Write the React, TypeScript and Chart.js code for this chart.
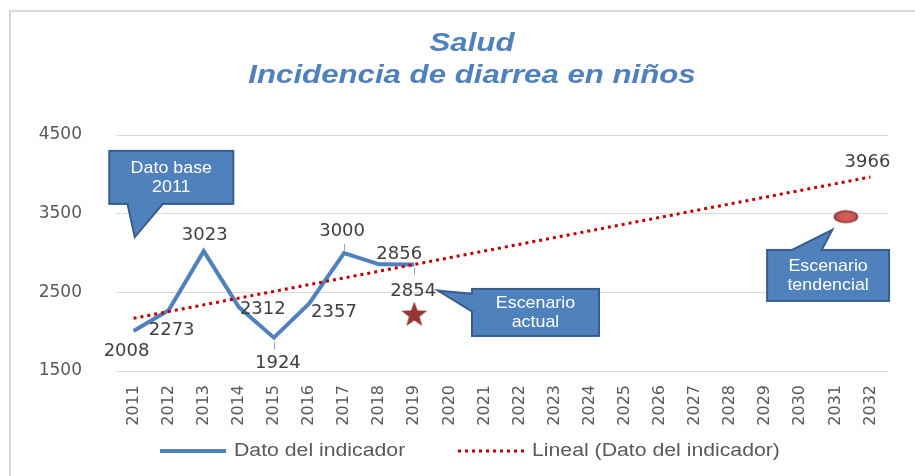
import React, { useEffect, useRef } from 'react';
import { Chart, registerables } from 'chart.js';

Chart.register(...registerables);

// ---------- data ----------
const TITLE_LINES = ['Salud', 'Incidencia de diarrea en niños'];
const YEARS = [2011, 2012, 2013, 2014, 2015, 2016, 2017, 2018, 2019, 2020, 2021, 2022, 2023, 2024, 2025, 2026, 2027, 2028, 2029, 2030, 2031, 2032];
const DATA_YEARS = [2011, 2012, 2013, 2014, 2015, 2016, 2017, 2018, 2019];
const VALUES = [2008, 2273, 3023, 2312, 1924, 2357, 3000, 2856, 2854];
const TREND_YEARS = [2011, 2032];
const TREND_VALUES = [2170, 3966];
const ACTUAL_YEARS = [2019];
const ACTUAL_VALUES = [2225];
const TENDENCIAL_YEARS = [2031.3];
const TENDENCIAL_VALUES = [3462];
const Y_TICKS = [1500, 2500, 3500, 4500];
const SERIES_NAMES = ['Dato del indicador', 'Lineal (Dato del indicador)'];
const CALLOUT_TEXTS = [['Dato base', '2011'], ['Escenario', 'actual'], ['Escenario', 'tendencial']];
const CALLOUT_TIP_X = [2011.05, 2019.79, 2030.85];
const CALLOUT_TIP_Y = [3230, 2505, 3268];

// ---------- layout / style (pixel offsets, not data) ----------
const LABEL_OFFSETS: [number, number][] = [[-7, 20], [3, 20], [1, -16], [24, 2], [4, 26], [25, 9], [-2, -22], [20, -10], [-1, 27]];
const LEADERS: ([number, number] | null)[] = [null, null, null, null, [4, 12], null, [-9, -1], null, [3, 11]];
const TREND_LABEL_OFFSET: [number, number] = [-3, -15];
// box: dx, dy, w, h relative to tip; tail base points relative to tip
const CALLOUT_GEOM = [
  { dx: -25, dy: -83, w: 122, h: 51, b1: [-7, -32], b2: [27, -32] },
  { dx: 31, dy: -2, w: 125, h: 45, b1: [31, 3], b2: [31, 19] },
  { dx: -62, dy: 19, w: 120, h: 49, b1: [-38, 19], b2: [-10, 19] },
];

const BLUE = '#4f81bd';
const DARK_BLUE = '#385d8a';
const RED = '#c00000';
const TEXT = '#595959';
const LABEL = '#404040';

function makeStar(): HTMLCanvasElement {
  const c = document.createElement('canvas');
  c.width = 30; c.height = 30;
  const ctx = c.getContext('2d')!;
  ctx.beginPath();
  for (let i = 0; i < 10; i++) {
    const r = i % 2 === 0 ? 13.5 : 5.6;
    const a = -Math.PI / 2 + (i * Math.PI) / 5;
    const x = 15 + r * Math.cos(a);
    const y = 16 + r * Math.sin(a);
    if (i === 0) ctx.moveTo(x, y); else ctx.lineTo(x, y);
  }
  ctx.closePath();
  ctx.fillStyle = '#953735';
  ctx.fill();
  return c;
}

function makeEllipse(): HTMLCanvasElement {
  const c = document.createElement('canvas');
  c.width = 28; c.height = 16;
  const ctx = c.getContext('2d')!;
  ctx.beginPath();
  ctx.ellipse(14, 8, 11.5, 5.8, 0, 0, Math.PI * 2);
  const g = ctx.createRadialGradient(14, 8, 1, 14, 8, 12);
  g.addColorStop(0, '#d9605c');
  g.addColorStop(1, '#b84a47');
  ctx.fillStyle = g;
  ctx.fill();
  ctx.lineWidth = 1.6;
  ctx.strokeStyle = '#8c3836';
  ctx.stroke();
  return c;
}

function drawText(ctx: CanvasRenderingContext2D, text: string, x: number, y: number, font: string, color: string, align: CanvasTextAlign, sx = 1, baseline: CanvasTextBaseline = 'middle') {
  ctx.save();
  ctx.font = font;
  ctx.fillStyle = color;
  ctx.textAlign = align;
  ctx.textBaseline = baseline;
  ctx.translate(x, y);
  ctx.scale(sx, 1);
  ctx.fillText(text, 0, 0);
  ctx.restore();
}

const decorPlugin = {
  id: 'decor',
  beforeDraw(chart: any) {
    const ctx: CanvasRenderingContext2D = chart.ctx;
    ctx.save();
    ctx.fillStyle = '#ffffff';
    ctx.fillRect(0, 0, chart.width, chart.height);
    ctx.strokeStyle = '#d9d9d9';
    ctx.lineWidth = 2;
    ctx.beginPath();
    ctx.moveTo(10, chart.height);
    ctx.lineTo(10, 11);
    ctx.lineTo(chart.width, 11);
    ctx.stroke();
    ctx.restore();
  },
  afterDatasetsDraw(chart: any) {
    const ctx: CanvasRenderingContext2D = chart.ctx;
    const xs = chart.scales.x;
    const ys = chart.scales.y;

    // data labels
    const labelFont = '18px "DejaVu Sans"';
    VALUES.forEach((v, i) => {
      const px = xs.getPixelForValue(DATA_YEARS[i]);
      const py = ys.getPixelForValue(v);
      const [ox, oy] = LABEL_OFFSETS[i];
      const lead = LEADERS[i];
      if (lead) {
        ctx.save();
        ctx.strokeStyle = '#a6a6a6';
        ctx.lineWidth = 1;
        ctx.beginPath();
        ctx.moveTo(Math.round(px) + 0.5, py + lead[0]);
        ctx.lineTo(Math.round(px) + 0.5, py + lead[1]);
        ctx.stroke();
        ctx.restore();
      }
      drawText(ctx, String(v), px + ox, py + oy, labelFont, LABEL, 'center');
    });
    {
      const last = TREND_VALUES.length - 1;
      const px = xs.getPixelForValue(TREND_YEARS[last]);
      const py = ys.getPixelForValue(TREND_VALUES[last]);
      drawText(ctx, String(TREND_VALUES[last]), px + TREND_LABEL_OFFSET[0], py + TREND_LABEL_OFFSET[1], labelFont, LABEL, 'center');
    }

    // callouts
    CALLOUT_TEXTS.forEach((lines, i) => {
      const tx = xs.getPixelForValue(CALLOUT_TIP_X[i]);
      const ty = ys.getPixelForValue(CALLOUT_TIP_Y[i]);
      const g = CALLOUT_GEOM[i];
      const bx = tx + g.dx, by = ty + g.dy;
      const tri = () => {
        ctx.beginPath();
        ctx.moveTo(tx, ty);
        ctx.lineTo(tx + g.b1[0], ty + g.b1[1]);
        ctx.lineTo(tx + g.b2[0], ty + g.b2[1]);
        ctx.closePath();
      };
      ctx.save();
      ctx.lineJoin = 'miter';
      ctx.strokeStyle = DARK_BLUE;
      ctx.lineWidth = 4;
      ctx.strokeRect(bx, by, g.w, g.h);
      tri();
      ctx.stroke();
      ctx.fillStyle = BLUE;
      ctx.fillRect(bx, by, g.w, g.h);
      tri();
      ctx.fill();
      ctx.restore();
      const cx = bx + g.w / 2, cy = by + g.h / 2;
      drawText(ctx, lines[0], cx, cy - 9.5, '17px "Liberation Sans"', '#ffffff', 'center', 1.05);
      drawText(ctx, lines[1], cx, cy + 9.5, '17px "Liberation Sans"', '#ffffff', 'center', 1.05);
    });
  },
  afterDraw(chart: any) {
    const ctx: CanvasRenderingContext2D = chart.ctx;
    // title
    const tf = 'italic bold 26px "Liberation Sans"';
    drawText(ctx, TITLE_LINES[0], 472, 51, tf, BLUE, 'center', 1.2, 'alphabetic');
    drawText(ctx, TITLE_LINES[1], 472, 83, tf, BLUE, 'center', 1.2, 'alphabetic');

    // legend
    const ly = 451;
    ctx.save();
    ctx.strokeStyle = BLUE;
    ctx.lineWidth = 4;
    ctx.beginPath();
    ctx.moveTo(160, ly);
    ctx.lineTo(226, ly);
    ctx.stroke();
    ctx.strokeStyle = RED;
    ctx.lineWidth = 3;
    ctx.setLineDash([3, 4]);
    ctx.beginPath();
    ctx.moveTo(458, ly);
    ctx.lineTo(526, ly);
    ctx.stroke();
    ctx.restore();
    const lf = '18px "Liberation Sans"';
    drawText(ctx, SERIES_NAMES[0], 234, ly, lf, TEXT, 'left', 1.18);
    drawText(ctx, SERIES_NAMES[1], 532, ly, lf, TEXT, 'left', 1.18);
  },
};

export default function App() {
  const ref = useRef<HTMLCanvasElement | null>(null);

  useEffect(() => {
    if (!ref.current) return;
    const star = makeStar();
    const ell = makeEllipse();
    const chart = new Chart(ref.current, {
      type: 'line',
      data: {
        datasets: [
          {
            label: SERIES_NAMES[1],
            data: TREND_YEARS.map((x, i) => ({ x, y: TREND_VALUES[i] })),
            borderColor: RED,
            borderWidth: 3,
            borderDash: [3, 4],
            pointRadius: 0,
            fill: false,
          },
          {
            label: SERIES_NAMES[0],
            data: DATA_YEARS.map((x, i) => ({ x, y: VALUES[i] })),
            borderColor: BLUE,
            borderWidth: 4,
            pointRadius: 0,
            tension: 0,
            fill: false,
          },
          {
            label: 'Escenario actual',
            data: ACTUAL_YEARS.map((x, i) => ({ x, y: ACTUAL_VALUES[i] })),
            showLine: false,
            pointStyle: star as any,
            pointRadius: 10,
          },
          {
            label: 'Escenario tendencial',
            data: TENDENCIAL_YEARS.map((x, i) => ({ x, y: TENDENCIAL_VALUES[i] })),
            showLine: false,
            pointStyle: ell as any,
            pointRadius: 10,
          },
        ],
      },
      options: {
        responsive: false,
        animation: false,
        devicePixelRatio: 1,
        layout: { padding: { left: 0, top: 135, right: 27, bottom: 0 } },
        plugins: {
          legend: { display: false },
          title: { display: false },
          tooltip: { enabled: false },
        },
        scales: {
          x: {
            type: 'linear',
            min: 2010.5,
            max: 2032.5,
            afterBuildTicks: (s: any) => { s.ticks = YEARS.map((v) => ({ value: v })); },
            afterFit: (s: any) => { s.height = 105; },
            grid: { display: false },
            border: { display: false },
            ticks: {
              autoSkip: false,
              minRotation: 90,
              maxRotation: 90,
              padding: 6,
              color: TEXT,
              font: { family: 'DejaVu Sans', size: 16 },
              callback: (v: any) => String(v),
            },
          },
          y: {
            min: 1500,
            max: 4500,
            afterBuildTicks: (s: any) => { s.ticks = Y_TICKS.map((v) => ({ value: v })); },
            afterFit: (s: any) => { s.width = 116; },
            grid: { color: '#d9d9d9', drawTicks: false, lineWidth: 1 },
            border: { display: false },
            ticks: {
              padding: 34,
              color: TEXT,
              font: { family: 'DejaVu Sans', size: 17 },
              callback: (v: any) => String(v),
            },
          },
        },
      } as any,
      plugins: [decorPlugin],
    });
    return () => chart.destroy();
  }, []);

  return (
    <div style={{ position: 'fixed', left: 0, top: 0, width: 915, height: 476, background: '#fff' }}>
      <canvas ref={ref} width={915} height={476} style={{ width: 915, height: 476, display: 'block' }} />
    </div>
  );
}
